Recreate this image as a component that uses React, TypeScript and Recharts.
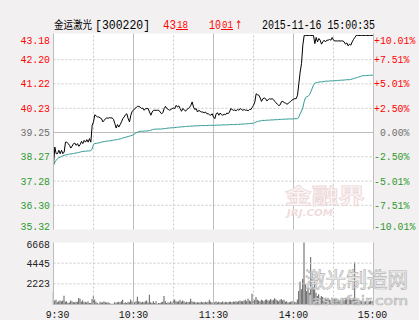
import React from 'react';
import { ComposedChart, Line, Bar, XAxis, YAxis, ReferenceLine, CartesianGrid } from 'recharts';

// ---- data (minute by minute, 9:30 .. 11:30, 13:01 .. 15:00) ----
const priceSeries = [
  37.92, 38.66, 38.39, 38.39, 38.53, 38.39, 38.53, 38.39, 38.46, 38.86,
  38.86, 38.80, 38.73, 38.62, 38.70, 38.80, 38.82, 38.73, 38.80, 38.69,
  38.76, 38.89, 38.80, 38.93, 38.86, 38.96, 38.86, 39.00, 38.86, 39.54,
  39.68, 39.97, 39.92, 39.88, 39.88, 39.84, 39.81, 39.68, 39.74, 39.81,
  39.84, 39.83, 39.85, 39.84, 39.84, 39.78, 39.61, 39.43, 39.57, 39.47,
  39.57, 39.68, 39.81, 39.88, 39.97, 40.01, 39.81, 39.68, 39.95, 40.11,
  40.15, 40.22, 40.26, 40.31, 40.31, 40.28, 40.22, 40.24, 40.15, 40.22,
  40.22, 40.22, 40.08, 39.95, 40.08, 40.15, 40.15, 40.15, 40.15, 40.15,
  40.08, 40.01, 40.05, 40.22, 40.31, 40.22, 40.19, 40.15, 40.18, 40.22,
  40.24, 40.22, 40.35, 40.28, 40.33, 40.22, 40.11, 40.22, 40.18, 40.11,
  40.18, 40.22, 40.26, 40.35, 40.49, 40.28, 40.18, 40.22, 40.08, 40.15,
  40.11, 40.08, 40.08, 40.05, 40.08, 40.01, 40.01, 39.97, 39.95, 40.01,
  39.88, 39.81, 40.01, 40.05, 39.95, 40.04, 39.97, 39.95, 39.99, 39.97,
  40.04, 40.01, 40.08, 40.22, 40.18, 40.15, 40.16, 40.13, 40.19, 40.15,
  40.22, 40.18, 40.15, 40.18, 40.15, 40.16, 40.13, 40.18, 40.18, 40.26,
  40.35, 40.49, 40.82, 40.78, 40.76, 40.65, 40.51, 40.62, 40.65, 40.62,
  40.53, 40.58, 40.62, 40.60, 40.62, 40.58, 40.51, 40.45, 40.39, 40.34,
  40.37, 40.50, 40.51, 40.46, 40.45, 40.39, 40.43, 40.47, 40.51, 40.57,
  40.60, 40.62, 40.62, 40.76, 41.23, 41.70, 42.04, 42.79, 43.18, 43.18,
  43.18, 43.18, 43.18, 43.18, 43.18, 43.18, 42.85, 43.10, 42.92, 43.06,
  42.99, 42.83, 42.92, 42.99, 42.92, 42.99, 42.99, 43.02, 42.99, 43.10,
  42.99, 42.96, 42.96, 42.96, 42.96, 42.96, 42.96, 42.96, 42.92, 42.83,
  42.88, 42.76, 42.83, 42.79, 42.92, 43.02, 43.10, 43.18, 43.18, 43.18,
  43.18, 43.18, 43.18, 43.18, 43.18, 43.18, 43.18, 43.18, 43.18, 43.18, 43.18,
];

const avgSeries = [
  37.92, 38.05, 38.12, 38.19, 38.23, 38.25, 38.28, 38.31, 38.32, 38.34,
  38.35, 38.36, 38.38, 38.38, 38.39, 38.40, 38.41, 38.42, 38.43, 38.44,
  38.46, 38.47, 38.48, 38.49, 38.49, 38.50, 38.50, 38.51, 38.51, 38.59,
  38.77, 38.80, 38.81, 38.82, 38.83, 38.84, 38.86, 38.87, 38.88, 38.89,
  38.90, 38.91, 38.91, 38.92, 38.93, 38.94, 38.95, 38.95, 38.97, 38.98,
  38.99, 39.00, 39.03, 39.04, 39.06, 39.07, 39.09, 39.10, 39.12, 39.14,
  39.16, 39.20, 39.24, 39.26, 39.28, 39.30, 39.30, 39.30, 39.31, 39.31,
  39.31, 39.32, 39.33, 39.34, 39.36, 39.38, 39.38, 39.39, 39.39, 39.39,
  39.39, 39.39, 39.40, 39.41, 39.41, 39.42, 39.43, 39.43, 39.44, 39.44,
  39.45, 39.45, 39.46, 39.46, 39.47, 39.47, 39.48, 39.48, 39.49, 39.49,
  39.50, 39.50, 39.50, 39.51, 39.51, 39.51, 39.52, 39.52, 39.52, 39.52,
  39.53, 39.53, 39.53, 39.53, 39.53, 39.53, 39.54, 39.54, 39.54, 39.54,
  39.54, 39.54, 39.55, 39.55, 39.55, 39.55, 39.55, 39.56, 39.56, 39.56,
  39.56, 39.56, 39.57, 39.57, 39.57, 39.57, 39.57, 39.58, 39.58, 39.58,
  39.58, 39.59, 39.59, 39.60, 39.60, 39.60, 39.61, 39.61, 39.62, 39.62,
  39.63, 39.65, 39.68, 39.69, 39.71, 39.72, 39.73, 39.74, 39.74, 39.74,
  39.75, 39.75, 39.75, 39.76, 39.76, 39.76, 39.77, 39.77, 39.77, 39.78,
  39.78, 39.78, 39.79, 39.79, 39.79, 39.79, 39.80, 39.80, 39.80, 39.80,
  39.80, 39.81, 39.81, 39.81, 39.88, 40.01, 40.12, 40.25, 40.50, 40.66,
  40.70, 40.72, 40.78, 40.90, 41.03, 41.17, 41.25, 41.27, 41.28, 41.29,
  41.30, 41.30, 41.31, 41.32, 41.33, 41.33, 41.33, 41.34, 41.34, 41.34,
  41.34, 41.35, 41.35, 41.36, 41.36, 41.37, 41.37, 41.37, 41.38, 41.38,
  41.39, 41.39, 41.39, 41.40, 41.42, 41.43, 41.45, 41.47, 41.48, 41.50,
  41.52, 41.54, 41.55, 41.55, 41.56, 41.56, 41.56, 41.57, 41.57, 41.57, 41.57,
];

const volumeSeries = [
  1380, 440, 510, 250, 360, 440, 360, 440, 950, 290,
  360, 150, 220, 440, 360, 250, 250, 290, 290, 690,
  620, 290, 470, 250, 290, 220, 360, 150, 150, 580,
  910, 550, 290, 150, 70, 290, 220, 250, 360, 250,
  220, 250, 150, 70, 70, 70, 250, 180, 250, 290,
  250, 360, 510, 150, 250, 150, 290, 250, 550, 360,
  150, 250, 360, 840, 360, 290, 220, 290, 250, 360,
  440, 220, 1060, 250, 180, 360, 150, 360, 70, 150,
  150, 250, 290, 910, 360, 150, 250, 180, 360, 220,
  440, 550, 360, 290, 360, 510, 290, 440, 360, 220,
  290, 250, 290, 620, 360, 250, 290, 220, 250, 220,
  250, 290, 220, 250, 290, 220, 290, 510, 290, 250,
  220, 250, 360, 220, 290, 250, 250, 330, 220, 290,
  250, 250, 290, 290, 250, 330, 290, 360, 290, 360,
  440, 360, 360, 440, 510, 360, 620, 440, 360, 1160,
  360, 510, 800, 510, 440, 360, 510, 440, 360, 510,
  550, 440, 440, 580, 440, 510, 660, 550, 440, 360,
  510, 580, 440, 510, 290, 360, 220, 250, 290, 360,
  290, 290, 250, 550, 1460, 2440, 1640, 2730, 6668, 2180,
  1460, 1820, 1270, 5100, 3460, 1820, 2550, 1270, 910, 1090,
  730, 910, 800, 550, 730, 550, 660, 510, 440, 730,
  510, 580, 660, 510, 550, 440, 510, 620, 440, 550,
  620, 510, 730, 510, 550, 730, 4550, 550, 510, 440,
  440, 360, 360, 290, 360, 290, 290, 360, 440, 360, 510,
];

const priceTicks = [35.32, 36.30, 37.28, 38.27, 39.25, 40.23, 41.22, 42.20, 43.18];
const pctLabels = ['-10.01%', '-7.51%', '-5.01%', '-2.50%', '0.00%', '+2.50%', '+5.01%', '+7.51%', '+10.01%'];
const volTicks = [2223, 4445, 6668];
const timeTicks = [0, 60, 120, 180, 240];
const timeLabels = ['9:30', '10:30', '11:30', '14:00', '15:00'];
const dashedTimes = [30, 90, 150, 210];
const solidTimes = [60, 120, 180];
const dashedPrices = [36.30, 37.28, 38.27, 40.23, 41.22, 42.20];
const dashedVols = [2223, 4445];
const prevClose = 39.25;

const data = priceSeries.map((p, i) => ({ t: i, price: p, avg: avgSeries[i], vol: volumeSeries[i] }));

const RED = '#f00';
const GREEN = '#2e9a2e';
const GRAY = '#6e6e6e';
const GRID = '#c9c9c9';
const BORDER = '#bdbdbd';
const MONO = '"Liberation Mono", "DejaVu Sans Mono", monospace';
const CW = 5.9;

const LeftTick = (props: any) => {
  const { y, payload } = props;
  const v = payload.value;
  const color = v > prevClose ? RED : v < prevClose ? GREEN : GRAY;
  const idx = priceTicks.indexOf(v);
  const dy = idx === priceTicks.length - 1 ? 4.5 : idx === 0 ? -3.5 : 0;
  const s = v.toFixed(2);
  return (
    <text x={50} y={y + dy + 3.6} textAnchor="end" fill={color} fontSize={11} fontFamily={MONO}
      textLength={CW * s.length} lengthAdjust="spacingAndGlyphs">{s}</text>
  );
};

const RightTick = (props: any) => {
  const { y, payload } = props;
  const v = payload.value;
  const idx = priceTicks.indexOf(v);
  const color = v > prevClose ? RED : v < prevClose ? GREEN : GRAY;
  const s = pctLabels[idx];
  const dy = idx === priceTicks.length - 1 ? 4.5 : idx === 0 ? -3.5 : 0;
  const x0 = v === prevClose ? 380 : 374;
  return (
    <text x={x0} y={y + dy + 3.6} textAnchor="start" fill={color} fontSize={11} fontFamily={MONO}
      textLength={CW * s.length} lengthAdjust="spacingAndGlyphs">{s}</text>
  );
};

const VolTick = (props: any) => {
  const { y, payload } = props;
  const v = payload.value;
  const dy = v === volTicks[volTicks.length - 1] ? 1.5 : 0;
  const s = String(v);
  return (
    <text x={50} y={y + dy + 3.6} textAnchor="end" fill="#222" fontSize={11} fontFamily={MONO}
      textLength={CW * s.length} lengthAdjust="spacingAndGlyphs">{s}</text>
  );
};

const TimeTick = (props: any) => {
  const { x, payload } = props;
  const idx = timeTicks.indexOf(payload.value);
  const s = timeLabels[idx];
  const dx = idx === 0 ? 4 : idx === timeTicks.length - 1 ? -1 : 0;
  return (
    <text x={x + dx} y={85.6} textAnchor="middle" fill="#111" fontSize={11} fontFamily={MONO}
      textLength={CW * s.length} lengthAdjust="spacingAndGlyphs">{s}</text>
  );
};

export default function App() {
  return (
    <div style={{ position: 'absolute', left: 0, top: 0, width: 419, height: 320, background: '#f2f0f0', overflow: 'hidden' }}>
      <div style={{ position: 'absolute', left: 0, top: 0 }}>
        <ComposedChart width={419} height={232} data={data} margin={{ top: 33.5, right: 0, bottom: 2.5, left: 0 }}>
          <CartesianGrid fill="#fff" horizontal={false} vertical={false} />
          <XAxis xAxisId="b" dataKey="t" type="number" domain={[0, 240]} ticks={timeTicks} tick={false} tickLine={false}
            height={0} axisLine={{ stroke: BORDER }} allowDataOverflow />
          <XAxis xAxisId="top" orientation="top" dataKey="t" type="number" domain={[0, 240]} tick={false} tickLine={false}
            height={0} axisLine={{ stroke: BORDER }} />
          <YAxis yAxisId="l" orientation="left" width={53.5} type="number" domain={[35.32, 43.261]} ticks={priceTicks}
            tick={<LeftTick />} tickLine={false} axisLine={{ stroke: BORDER }} interval={0} allowDataOverflow />
          <YAxis yAxisId="r" orientation="right" width={45.5} type="number" domain={[35.32, 43.261]} ticks={priceTicks}
            tick={<RightTick />} tickLine={false} axisLine={{ stroke: BORDER }} interval={0} allowDataOverflow />
          {dashedPrices.map((p) => (
            <ReferenceLine key={'hp' + p} xAxisId="b" yAxisId="l" y={p} stroke={GRID} strokeDasharray="2 2" />
          ))}
          <ReferenceLine xAxisId="b" yAxisId="l" y={prevClose} stroke={BORDER} />
          {dashedTimes.map((t) => (
            <ReferenceLine key={'vd' + t} xAxisId="b" yAxisId="l" x={t} stroke={GRID} strokeDasharray="2 2" />
          ))}
          {solidTimes.map((t) => (
            <ReferenceLine key={'vs' + t} xAxisId="b" yAxisId="l" x={t} stroke={BORDER} />
          ))}
          <Line xAxisId="b" yAxisId="l" type="linear" dataKey="avg" stroke="#2f9a93" strokeWidth={1} dot={false}
            isAnimationActive={false} />
          <Line xAxisId="b" yAxisId="l" type="linear" dataKey="price" stroke="#000" strokeWidth={1} dot={false}
            isAnimationActive={false} />
        </ComposedChart>
      </div>
      <div style={{ position: 'absolute', left: 0, top: 232 }}>
        <ComposedChart width={419} height={88} data={data} margin={{ top: 10.5, right: 0, bottom: 0, left: 0 }}>
          <CartesianGrid fill="#fff" horizontal={false} vertical={false} />
          <XAxis xAxisId="b" dataKey="t" type="number" domain={[0, 240]} ticks={timeTicks} interval={0}
            tick={<TimeTick />} tickLine={false} height={15.5} axisLine={{ stroke: BORDER }} />
          <XAxis xAxisId="top" orientation="top" dataKey="t" type="number" domain={[0, 240]} tick={false} tickLine={false}
            height={0} axisLine={{ stroke: BORDER }} />
          <YAxis yAxisId="l" orientation="left" width={53.5} type="number" domain={[0, 6668]} ticks={volTicks}
            tick={<VolTick />} tickLine={false} axisLine={{ stroke: BORDER }} interval={0} />
          <YAxis yAxisId="r" orientation="right" width={45.5} type="number" domain={[0, 6668]} tick={false}
            tickLine={false} axisLine={{ stroke: BORDER }} />
          {dashedVols.map((v) => (
            <ReferenceLine key={'hv' + v} xAxisId="b" yAxisId="l" y={v} stroke={GRID} strokeDasharray="2 2" />
          ))}
          {dashedTimes.map((t) => (
            <ReferenceLine key={'vd' + t} xAxisId="b" yAxisId="l" x={t} stroke={GRID} strokeDasharray="2 2" />
          ))}
          {solidTimes.map((t) => (
            <ReferenceLine key={'vs' + t} xAxisId="b" yAxisId="l" x={t} stroke={BORDER} />
          ))}
          <Bar xAxisId="b" yAxisId="l" dataKey="vol" fill="#5e5e5e" barSize={1} isAnimationActive={false} />
        </ComposedChart>
      </div>
      <svg width={419} height={320} style={{ position: 'absolute', left: 0, top: 0, pointerEvents: 'none' }}>
        {/* header */}
        <text x={54} y={29} fontSize={11.5} fontFamily='"Noto Sans CJK SC", sans-serif' fill="#000"
          textLength={38} lengthAdjust="spacingAndGlyphs">金运激光</text>
        <text x={95} y={29} fontSize={12} fontFamily={MONO} fill="#000" textLength={55}
          lengthAdjust="spacingAndGlyphs">[300220]</text>
        <text x={163} y={29} fontSize={12} fontFamily={MONO} fill={RED} textLength={13}
          lengthAdjust="spacingAndGlyphs">43</text>
        <text x={177} y={28} fontSize={11} fontFamily={MONO} fill={RED} textLength={11}
          lengthAdjust="spacingAndGlyphs">18</text>
        <line x1={176} x2={188} y1={29.5} y2={29.5} stroke={RED} strokeWidth={1} />
        <text x={209} y={29} fontSize={12} fontFamily={MONO} fill={RED} textLength={12}
          lengthAdjust="spacingAndGlyphs">10</text>
        <text x={222} y={28} fontSize={11} fontFamily={MONO} fill={RED} textLength={11}
          lengthAdjust="spacingAndGlyphs">01</text>
        <line x1={221} x2={233} y1={29.5} y2={29.5} stroke={RED} strokeWidth={1} />
        <text x={235} y={29} fontSize={12} fontFamily='"DejaVu Sans", sans-serif' fill={RED} textLength={7}
          lengthAdjust="spacingAndGlyphs">↑</text>
        <text x={262} y={29} fontSize={12} fontFamily={MONO} fill="#000" textLength={113}
          lengthAdjust="spacingAndGlyphs">2015-11-16 15:00:35</text>
        {/* JRJ watermark */}
        <text x={285} y={203} fontSize={21} fontWeight={700} fontFamily='"Noto Sans CJK SC", sans-serif' fill="#fcf6f6"
          stroke="#ecd8d8" strokeWidth={0.8} textLength={80} lengthAdjust="spacingAndGlyphs">金融界</text>
        <text x={287} y={216} fontSize={8} fontStyle="italic" fontWeight={700} fontFamily='"DejaVu Sans", sans-serif'
          fill="#efdcdc" textLength={46} lengthAdjust="spacingAndGlyphs">JRJ.COM</text>
        {/* laserfair watermark */}
        <text x={305} y={287} fontSize={21} fontFamily='"Noto Sans CJK SC", sans-serif' fill="#f8f8f8" fillOpacity={0.85}
          stroke="#b4b4b4" strokeWidth={0.7} textLength={103} lengthAdjust="spacingAndGlyphs">激光制造网</text>
        <text x={308} y={305} fontSize={12} fontFamily='"DejaVu Sans", sans-serif' fill="#f6f6f6" fillOpacity={0.85}
          stroke="#b4b4b4" strokeWidth={0.6} textLength={100} lengthAdjust="spacingAndGlyphs">laserfair.com</text>
      </svg>
    </div>
  );
}
